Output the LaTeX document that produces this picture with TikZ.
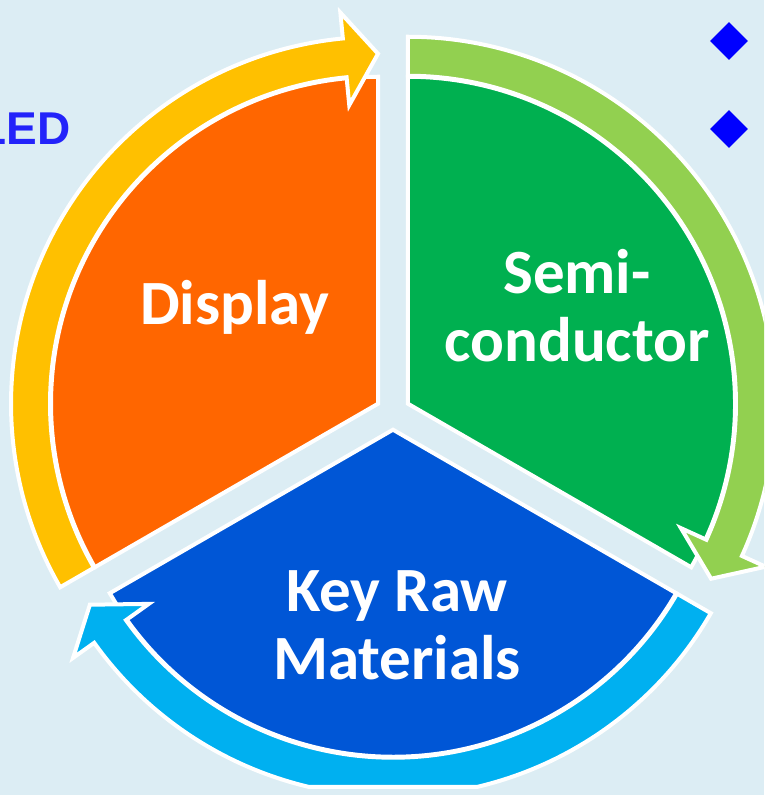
\documentclass[tikz,border=0pt]{standalone}
\usepackage{fontspec}
\setmainfont{Carlito}
\newfontfamily\ledfont{Liberation Sans}
\usetikzlibrary{shapes.geometric}

\definecolor{bgblue}{RGB}{220,237,244}
\definecolor{segorange}{RGB}{255,102,0}
\definecolor{seggreen}{RGB}{0,176,80}
\definecolor{segblue}{RGB}{0,86,214}
\definecolor{arryellow}{RGB}{255,192,0}
\definecolor{arrgreen}{RGB}{146,208,80}
\definecolor{arrcyan}{RGB}{0,176,240}
\definecolor{ledblue}{RGB}{35,35,250}
\definecolor{bulletblue}{RGB}{0,0,255}

\begin{document}
\begin{tikzpicture}[x=1pt,y=1pt,
  segment/.style={draw=white, line width=4pt, line join=miter},
  cyclearrow/.style={draw=white, line width=4pt, line join=miter},
  seglabel/.style={text=white, font=\bfseries\fontsize{63}{68}\selectfont, align=center, inner sep=0pt},
  bullet/.style={diamond, fill=bulletblue, inner sep=0pt, minimum size=38pt}]
\useasboundingbox (-393,-382.6) rectangle (371,412.4);
\clip (-393,-382.6) rectangle (371,412.4);
\fill[bgblue] (-393,-382.6) rectangle (371,412.4);

% centres of the three exploded segments
\coordinate (cdisp) at (150:17.3);
\coordinate (csemi) at (30:17.3);
\coordinate (craw) at (270:17.3);

% pie segments
\begin{scope}[shift={(cdisp)}]
  \path[segment, fill=segorange] (0,0) -- (90:327) arc[start angle=90, end angle=210, radius=327] -- cycle;
\end{scope}
\begin{scope}[shift={(csemi)}]
  \path[segment, fill=seggreen] (0,0) -- (-30:327) arc[start angle=-30, end angle=90, radius=327] -- cycle;
\end{scope}
\begin{scope}[shift={(craw)}]
  \path[segment, fill=segblue] (0,0) -- (210:327) arc[start angle=210, end angle=330, radius=327] -- cycle;
\end{scope}

% circular arrows running clockwise around each segment
\begin{scope}[shift={(cdisp)}]
  \path[cyclearrow, fill=arryellow] (210:328) arc[start angle=210, end angle=95.5, radius=328]
    -- (95.5:300) -- (90:350) -- (95.5:393) -- (95.5:367)
    arc[start angle=95.5, end angle=210, radius=367] -- cycle;
\end{scope}
\begin{scope}[shift={(csemi)}]
  \path[cyclearrow, fill=arrgreen] (90:328) arc[start angle=90, end angle=-24.5, radius=328]
    -- (-24.5:300) -- (-30:350) -- (-24.5:393) -- (-24.5:367)
    arc[start angle=-24.5, end angle=90, radius=367] -- cycle;
\end{scope}
\begin{scope}[shift={(craw)}]
  \path[cyclearrow, fill=arrcyan] (330:328) arc[start angle=330, end angle=215.5, radius=328]
    -- (215.5:300) -- (210:350) -- (215.5:393) -- (215.5:367)
    arc[start angle=215.5, end angle=256.8, radius=367] -- (283.2:367)
    arc[start angle=283.2, end angle=330, radius=367] -- cycle;
\end{scope}

% segment labels (base anchor sits on the last line)
\node[seglabel, anchor=base] (display) at (-158,87.4) {Display};
\node[seglabel, anchor=base] (semi) at (184,50.4) {Semi-\\conductor};
\node[seglabel, anchor=base] (keyraw) at (4,-266.6) {Key Raw\\Materials};

% side text and bullets
\node[font=\ledfont\bfseries\fontsize{46}{50}\selectfont, text=ledblue, anchor=base east, inner sep=0pt] (led) at (-322.5,267.4) {LED};
\node[bullet] (bulletone) at (336,371.4) {};
\node[bullet] (bullettwo) at (336,283.4) {};
\end{tikzpicture}
\end{document}
